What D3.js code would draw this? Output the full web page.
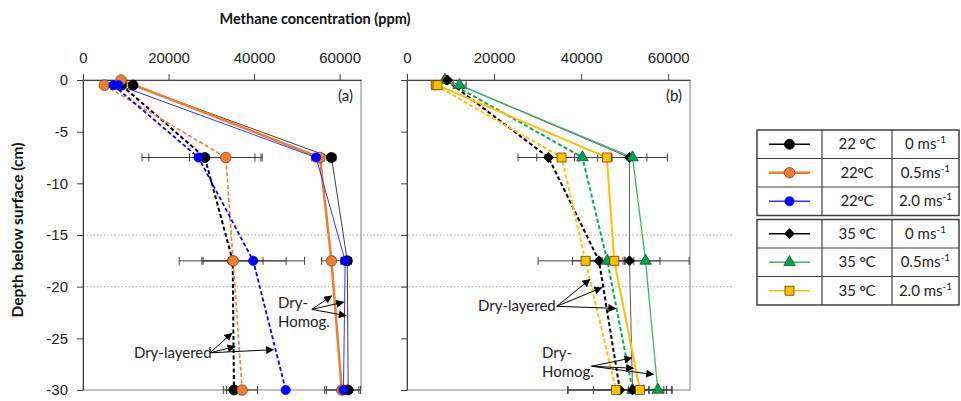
<!DOCTYPE html>
<html>
<head>
<meta charset="utf-8">
<script src="https://cdn.jsdelivr.net/npm/d3@7"></script>
<style>
  body { margin: 0; background: #fff; }
  svg { font-family: Lato, "Open Sans", sans-serif; }
</style>
</head>
<body>
<div id="chart"></div>
<script>
"use strict";

// depths (cm) of the sampling levels
const depthSurf0 = [0, -7.5, -17.5, -30];
const depthSurf05 = [-0.5, -7.5, -17.5, -30];

// panel (a) 22 C, methane ppm
const a0Homog = [11700, 58100, 61800, 62000];
const a0HomogErr = [0, 1000, 1000, 600];
const a05Homog = [8900, 55400, 58100, 60500];
const a05HomogErr = [0, 1000, 2300, 4000];
const a2Homog = [8300, 54500, 61300, 60900];
const a2HomogErr = [0, 1000, 1000, 4000];
const a0Layer = [9000, 28500, 35000, 35300];
const a0LayerErr = [0, 13100, 12500, 2500];
const a05Layer = [5000, 33400, 35100, 37200];
const a05LayerErr = [0, 8500, 7000, 3600];
const a2Layer = [7100, 27000, 39800, 47400];
const a2LayerErr = [0, 13200, 12000, 0];

// panel (b) 35 C
const b0Homog = [9300, 51100, 51100, 51800];
const b0HomogErr = [0, 4000, 1000, 1000];
const b05Homog = [12100, 51800, 54800, 57600];
const b05HomogErr = [1500, 8000, 10000, 2000];
const b2Homog = [7000, 45900, 47600, 53500];
const b2HomogErr = [0, 1000, 2000, 2000];
const b0Layer = [9000, 32500, 44100, 48900];
const b0LayerErr = [0, 7000, 14000, 12000];
const b05Layer = [8700, 40300, 46000, 51800];
const b05LayerErr = [0, 10500, 4000, 9000];
const b2Layer = [6600, 35500, 41000, 48000];
const b2LayerErr = [0, 3000, 3000, 11000];

const xTicks = [0, 20000, 40000, 60000];
const yTicks = [0, -5, -10, -15, -20, -25, -30];
const gridDepths = [-15, -20];

const legendTemps = ["22 ", "22", "22", "35 ", "35 ", "35 "];
const legendSpeeds = ["0 ms", "0.5ms", "2.0 ms", "0 ms", "0.5ms", "2.0 ms"];

// styles per condition
const styles = {
  a0: { line: "#404040", w: 1, fill: "#000", stroke: "#000", shape: "circle", size: 5 },
  a05: { line: "#ED7D31", w: 2.5, fill: "#ED7D31", stroke: "#8a4416", shape: "circle", size: 5.3 },
  a2: { line: "#3333ff", w: 1, fill: "#0000ff", stroke: "#0000ff", shape: "circle", size: 4.6 },
  b0: { line: "#595959", w: 1, fill: "#000", stroke: "#000", shape: "diamond", size: 5 },
  b05: { line: "#3cb371", w: 1.3, fill: "#00a550", stroke: "#1a4d2e", shape: "triangle", size: 5.5 },
  b2: { line: "#ffc000", w: 2, fill: "#ffc000", stroke: "#5a4300", shape: "square", size: 4.5 }
};
const dashStyles = {
  a0: { line: "#000", w: 2 },
  a05: { line: "#ED7D31", w: 1.6 },
  a2: { line: "#0000ff", w: 1.8 },
  b0: { line: "#000", w: 2 },
  b05: { line: "#00b050", w: 2 },
  b2: { line: "#ffc000", w: 2 }
};

const panelA = [
  { key: "a0", dash: true, depth: depthSurf05, v: a0Layer, e: a0LayerErr },
  { key: "a05", dash: true, depth: depthSurf05, v: a05Layer, e: a05LayerErr },
  { key: "a2", dash: true, depth: depthSurf05, v: a2Layer, e: a2LayerErr },
  { key: "a0", dash: false, depth: depthSurf05, v: a0Homog, e: a0HomogErr },
  { key: "a05", dash: false, depth: depthSurf0, v: a05Homog, e: a05HomogErr },
  { key: "a2", dash: false, depth: depthSurf05, v: a2Homog, e: a2HomogErr }
];
const panelB = [
  { key: "b0", dash: true, depth: depthSurf0, v: b0Layer, e: b0LayerErr },
  { key: "b05", dash: true, depth: depthSurf0, v: b05Layer, e: b05LayerErr },
  { key: "b2", dash: true, depth: depthSurf05, v: b2Layer, e: b2LayerErr },
  { key: "b0", dash: false, depth: depthSurf0, v: b0Homog, e: b0HomogErr },
  { key: "b05", dash: false, depth: depthSurf05, v: b05Homog, e: b05HomogErr },
  { key: "b2", dash: false, depth: depthSurf05, v: b2Homog, e: b2HomogErr }
];

const width = 961, height = 401;
const plotTop = 80, plotBottom = 390;

const svg = d3.select("#chart").append("svg")
  .attr("width", width).attr("height", height);

const defs = svg.append("defs");
defs.append("marker")
  .attr("id", "arrow")
  .attr("viewBox", "0 0 10 10")
  .attr("refX", 9).attr("refY", 5)
  .attr("markerWidth", 9).attr("markerHeight", 8)
  .attr("markerUnits", "userSpaceOnUse")
  .attr("orient", "auto")
  .append("path").attr("d", "M0,0L10,5L0,10Z").attr("fill", "#000");

const y = d3.scaleLinear().domain([0, -30]).range([plotTop, plotBottom]);
const xA = d3.scaleLinear().domain([0, 65000]).range([83, 361]);
const xB = d3.scaleLinear().domain([0, 65000]).range([407, 690]);

// dotted grid lines across both panels
svg.selectAll(".grid").data(gridDepths).enter().append("line")
  .attr("x1", xA(0)).attr("x2", 733)
  .attr("y1", d => y(d)).attr("y2", d => y(d))
  .attr("stroke", "#a6a6a6").attr("stroke-width", 1)
  .attr("stroke-dasharray", "1.5,2");

function symbolPath(shape, r) {
  if (shape === "circle") return d3.symbol(d3.symbolCircle, Math.PI * r * r)();
  if (shape === "square") return d3.symbol(d3.symbolSquare, (2 * r) * (2 * r))();
  if (shape === "triangle") return d3.symbol(d3.symbolTriangle, r * r * 1.9)();
  if (shape === "diamond") return d3.symbol(d3.symbolSquare, r * r * 2)();
}

function drawPanel(x, series, label, showLabels) {
  const g = svg.append("g");

  g.append("rect")
    .attr("x", x.range()[0]).attr("y", plotTop)
    .attr("width", x.range()[1] - x.range()[0]).attr("height", plotBottom - plotTop)
    .attr("fill", "none").attr("stroke", "#7f7f7f").attr("stroke-width", 1);

  const xAxis = g.append("g")
    .attr("transform", "translate(0," + plotTop + ")")
    .call(d3.axisTop(x).tickValues(xTicks).tickFormat(d3.format("d"))
      .tickSize(6).tickSizeOuter(0).tickPadding(11));
  const yAxis = g.append("g")
    .attr("transform", "translate(" + x.range()[0] + ",0)")
    .call(d3.axisLeft(y).tickValues(yTicks)
      .tickFormat(showLabels ? (d => String(d)) : "")
      .tickSize(6).tickSizeOuter(0).tickPadding(9));
  [xAxis, yAxis].forEach(a => {
    a.selectAll("path, line").attr("stroke", "#404040");
    a.selectAll("text").attr("font-size", 15).attr("fill", "#222");
  });

  // error bars
  series.forEach(s => {
    s.v.forEach((v, i) => {
      const err = s.e[i];
      if (!err) return;
      const yy = y(s.depth[i]);
      const eg = g.append("g").attr("stroke", "#404040").attr("stroke-width", 1);
      eg.append("line").attr("x1", x(v - err)).attr("x2", x(Math.min(v + err, 65000)))
        .attr("y1", yy).attr("y2", yy);
      [v - err, v + err].forEach(c => {
        if (c > 65000) return;
        eg.append("line").attr("x1", x(c)).attr("x2", x(c))
          .attr("y1", yy - 4).attr("y2", yy + 4);
      });
    });
  });

  // profile lines
  const line = d3.line().x(d => x(d[0])).y(d => y(d[1]));
  series.forEach(s => {
    const st = s.dash ? dashStyles[s.key] : styles[s.key];
    g.append("path")
      .datum(s.v.map((v, i) => [v, s.depth[i]]))
      .attr("d", line)
      .attr("fill", "none")
      .attr("stroke", st.line)
      .attr("stroke-width", st.w)
      .attr("stroke-dasharray", s.dash ? "4,2.5" : null);
  });

  // markers
  series.forEach(s => {
    const st = styles[s.key];
    g.selectAll(null).data(s.v.map((v, i) => [v, s.depth[i]])).enter()
      .append("path")
      .attr("d", symbolPath(st.shape, st.size))
      .attr("transform", d => "translate(" + x(d[0]) + "," + y(d[1]) + ")" +
        (st.shape === "diamond" ? " rotate(45)" : ""))
      .attr("fill", st.fill)
      .attr("stroke", st.stroke)
      .attr("stroke-width", 0.8);
  });

  g.append("text")
    .attr("x", x.range()[1] - 8).attr("y", plotTop + 21)
    .attr("text-anchor", "end").attr("font-size", 15).attr("fill", "#222")
    .text(label);
}

drawPanel(xA, panelA, "(a)", true);
drawPanel(xB, panelB, "(b)", false);

// annotations
function annotate(x, lines, textAt, from, targets) {
  const t = svg.append("text").attr("font-size", 15).attr("fill", "#222");
  lines.forEach((l, i) => {
    t.append("tspan").attr("x", x(textAt[0])).attr("y", y(textAt[1]) + 5 + i * 19).text(l);
  });
  targets.forEach(p => {
    svg.append("line")
      .attr("x1", x(from[0])).attr("y1", y(from[1]))
      .attr("x2", x(p[0])).attr("y2", y(p[1]))
      .attr("stroke", "#000").attr("stroke-width", 1)
      .attr("marker-end", "url(#arrow)");
  });
}
annotate(xA, ["Dry-layered"], [11900, -26.4], [29700, -26.4],
  [[34800, -24.5], [35500, -25.8], [44500, -26.1]]);
annotate(xA, ["Dry-", "Homog."], [45600, -21.6], [53500, -22.2],
  [[58100, -20.9], [60900, -21.5], [61500, -22.8]]);
annotate(xB, ["Dry-layered"], [16300, -21.9], [34400, -21.9],
  [[42000, -19.3], [44700, -20.1], [47900, -22.1]]);
annotate(xB, ["Dry-", "Homog."], [31000, -26.4], [42400, -27.7],
  [[51600, -26.9], [52000, -27.9], [56600, -28.5]]);

// titles
svg.append("text")
  .attr("x", 315).attr("y", 24).attr("text-anchor", "middle")
  .attr("font-size", 14.5).attr("font-weight", "bold").attr("fill", "#111")
  .text("Methane concentration (ppm)");
svg.append("text")
  .attr("transform", "translate(23,230) rotate(-90)")
  .attr("text-anchor", "middle")
  .attr("font-size", 15.5).attr("font-weight", "bold").attr("fill", "#111")
  .text("Depth below surface (cm)");

// legend table
const legendKeys = ["a0", "a05", "a2", "b0", "b05", "b2"];
const lx = [757, 822, 892, 959];
const rowH = 28.5;
const blockTop = [130, 219.5];
const lg = svg.append("g");
legendKeys.forEach((k, i) => {
  const block = i < 3 ? 0 : 1;
  const ry = blockTop[block] + (i % 3) * rowH;
  const cy = ry + rowH / 2;
  const st = styles[k];
  lg.append("line").attr("x1", 769).attr("x2", 810).attr("y1", cy).attr("y2", cy)
    .attr("stroke", k === "a05" ? "#ED7D31" : (k === "b0" || k === "a0") ? "#000" : st.line)
    .attr("stroke-width", k === "a05" ? 2.5 : 1.5);
  lg.append("path")
    .attr("d", symbolPath(st.shape, st.size))
    .attr("transform", "translate(789.5," + cy + ")" + (st.shape === "diamond" ? " rotate(45)" : ""))
    .attr("fill", st.fill).attr("stroke", st.stroke).attr("stroke-width", 0.8);
  const tt = lg.append("text").attr("x", (lx[1] + lx[2]) / 2).attr("y", cy + 5)
    .attr("text-anchor", "middle").attr("font-size", 15).attr("fill", "#222");
  tt.append("tspan").text(legendTemps[i]);
  tt.append("tspan").attr("font-size", 10).attr("font-weight", "bold").attr("dy", -5).text("o");
  tt.append("tspan").attr("dy", 5).text("C");
  const sp = lg.append("text").attr("x", (lx[2] + lx[3]) / 2).attr("y", cy + 5)
    .attr("text-anchor", "middle").attr("font-size", 15).attr("fill", "#222");
  sp.append("tspan").text(legendSpeeds[i]);
  sp.append("tspan").attr("font-size", 10).attr("dy", -6).text("-1");
});
blockTop.forEach(bt => {
  const b = lg.append("g").attr("stroke", "#404040").attr("fill", "none");
  b.append("rect").attr("x", lx[0]).attr("y", bt).attr("width", lx[3] - lx[0])
    .attr("height", rowH * 3).attr("stroke-width", 1.5);
  [1, 2].forEach(r => b.append("line").attr("x1", lx[0]).attr("x2", lx[3])
    .attr("y1", bt + r * rowH).attr("y2", bt + r * rowH).attr("stroke-width", 1.2));
  [1, 2].forEach(c => b.append("line").attr("x1", lx[c]).attr("x2", lx[c])
    .attr("y1", bt).attr("y2", bt + rowH * 3).attr("stroke-width", 1.2));
});
</script>
</body>
</html>
